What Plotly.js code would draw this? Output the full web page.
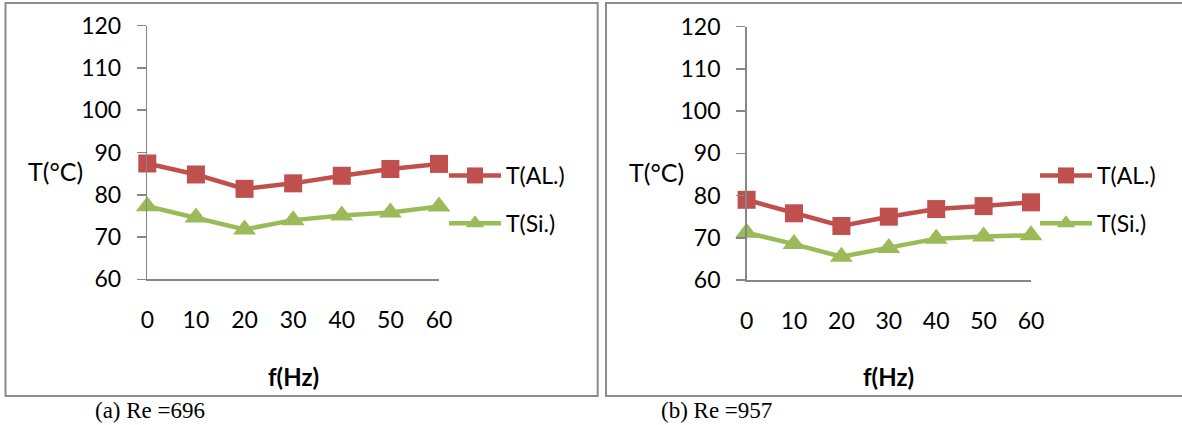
<!DOCTYPE html>
<html>
<head>
<meta charset="utf-8">
<script src="https://cdn.plot.ly/plotly-3.0.1.min.js"></script>
<style>
html,body{margin:0;padding:0;background:#fff;}
#chart{width:1182px;height:425px;}
</style>
</head>
<body>
<div id="chart"></div>
<script>
// Data
const freq = [0, 10, 20, 30, 40, 50, 60];
const alRe696 = [87.4, 84.8, 81.4, 82.7, 84.5, 86.1, 87.3];
const siRe696 = [77.3, 74.6, 71.8, 74.0, 75.1, 75.8, 77.2];
const alRe957 = [79.0, 75.8, 72.8, 75.0, 76.8, 77.5, 78.4];
const siRe957 = [71.2, 68.5, 65.5, 67.6, 69.8, 70.3, 70.6];
const seriesNames = ['T(AL.)', 'T(Si.)'];
const captions = ['(a) Re =696', '(b) Re =957'];
const xTitle = 'f(Hz)';
const yTitle = 'T(°C)';

const RED = '#C0504D';
const GREEN = '#9BBB59';
const AXIS = '#868686';
const FONT = 'Lato, "Open Sans", sans-serif';
const FS = 23;

function mk(x, y, name, color, symbol, size, xa, ya, leg, grp) {
  return {
    x: x, y: y, name: name, type: 'scatter', mode: 'lines+markers',
    xaxis: xa, yaxis: ya, legend: leg, legendgroup: grp,
    line: {color: color, width: 4.5},
    marker: {color: color, symbol: symbol, size: size},
    cliponaxis: false, hoverinfo: 'x+y'
  };
}

const data = [
  mk(freq, alRe696, seriesNames[0], RED, 'square', 18, 'x', 'y', 'legend', 'g1'),
  mk(freq, siRe696, seriesNames[1], GREEN, 'triangle-up', 20, 'x', 'y', 'legend', 'g2'),
  mk(freq, alRe957, seriesNames[0], RED, 'square', 18, 'x2', 'y2', 'legend2', 'g3'),
  mk(freq, siRe957, seriesNames[1], GREEN, 'triangle-up', 20, 'x2', 'y2', 'legend2', 'g4')
];

const W = 1182, H = 425;
const px = v => v / W;
const py = v => 1 - v / H;

function xax(domain) {
  return {
    domain: domain, range: [0, 60], dtick: 10, tick0: 0,
    showline: true, linecolor: AXIS, linewidth: 1.5,
    ticks: '', showgrid: false, zeroline: false,
    tickfont: {family: FONT, size: FS, color: '#000'},
    ticklabelstandoff: 20, fixedrange: true
  };
}
function yax(domain, anchor) {
  return {
    domain: domain, range: [60, 120], dtick: 10, tick0: 60,
    showline: true, linecolor: AXIS, linewidth: 1.5,
    ticks: 'outside', ticklen: 9, tickwidth: 1.5, tickcolor: AXIS,
    showgrid: false, zeroline: false, anchor: anchor,
    tickfont: {family: FONT, size: FS, color: '#000'},
    ticklabelstandoff: 11, fixedrange: true
  };
}

const legBase = {
  xanchor: 'left', yanchor: 'top', bgcolor: 'rgba(0,0,0,0)',
  font: {family: FONT, size: FS, color: '#000'},
  itemwidth: 52, tracegroupgap: 15, traceorder: 'grouped'
};

const layout = {
  width: W, height: H,
  margin: {l: 0, r: 0, t: 0, b: 0},
  paper_bgcolor: '#fff', plot_bgcolor: 'rgba(0,0,0,0)',
  showlegend: true,
  xaxis: Object.assign(xax([px(147.3), px(439)]), {anchor: 'y'}),
  yaxis: yax([py(279.3), py(25.7)], 'x'),
  xaxis2: Object.assign(xax([px(746.6), px(1031)]), {anchor: 'y2'}),
  yaxis2: yax([py(280), py(26.7)], 'x2'),
  legend: Object.assign({}, legBase, {x: px(444), y: py(154)}),
  legend2: Object.assign({}, legBase, {x: px(1035), y: py(154)}),
  shapes: [
    {type: 'rect', xref: 'paper', yref: 'paper', x0: px(5.5), x1: px(597.7), y0: py(396), y1: py(3),
     line: {color: '#8c8c8c', width: 2}},
    {type: 'rect', xref: 'paper', yref: 'paper', x0: px(606), x1: px(1183), y0: py(396), y1: py(3),
     line: {color: '#8c8c8c', width: 2}}
  ],
  annotations: [
    {text: yTitle, xref: 'paper', yref: 'paper', x: px(55), y: py(171), xanchor: 'center', yanchor: 'middle',
     showarrow: false, font: {family: FONT, size: 25, color: '#000'}},
    {text: yTitle, xref: 'paper', yref: 'paper', x: px(656.3), y: py(172), xanchor: 'center', yanchor: 'middle',
     showarrow: false, font: {family: FONT, size: 25, color: '#000'}},
    {text: '<b>' + xTitle + '</b>', xref: 'paper', yref: 'paper', x: px(293), y: py(376), xanchor: 'center', yanchor: 'middle',
     showarrow: false, font: {family: FONT, size: 24, color: '#000'}},
    {text: '<b>' + xTitle + '</b>', xref: 'paper', yref: 'paper', x: px(888.5), y: py(376), xanchor: 'center', yanchor: 'middle',
     showarrow: false, font: {family: FONT, size: 24, color: '#000'}},
    {text: captions[0], xref: 'paper', yref: 'paper', x: px(93), y: py(410.5), xanchor: 'left', yanchor: 'middle',
     showarrow: false, font: {family: '"Liberation Serif", "Times New Roman", serif', size: 23, color: '#000'}},
    {text: captions[1], xref: 'paper', yref: 'paper', x: px(659), y: py(410.5), xanchor: 'left', yanchor: 'middle',
     showarrow: false, font: {family: '"Liberation Serif", "Times New Roman", serif', size: 23, color: '#000'}}
  ]
};

Plotly.newPlot('chart', data, layout, {staticPlot: true, displayModeBar: false});
</script>
</body>
</html>
